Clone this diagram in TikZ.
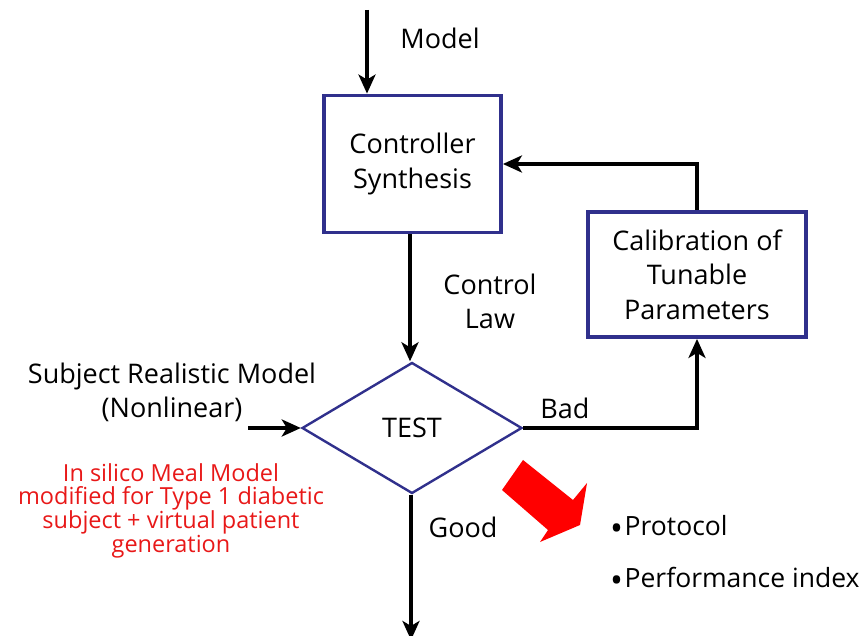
\documentclass[tikz,border=0pt]{standalone}
\usepackage{fontspec}
\setmainfont{Open Sans}
\usetikzlibrary{shapes.geometric,arrows.meta}
\definecolor{boxblue}{RGB}{48,48,140}
\definecolor{notered}{RGB}{232,24,24}
\definecolor{bigred}{RGB}{255,0,0}
\tikzset{
  stepbox/.style={draw=boxblue, line width=3.8pt, fill=white, inner sep=0pt,
    align=center, font=\fontsize{27}{34.5}\selectfont},
  decision/.style={diamond, draw=boxblue, line width=2.4pt, inner sep=0pt,
    minimum width=220pt, minimum height=131pt, aspect=1.68,
    font=\fontsize{27}{34}\selectfont},
  flow/.style={line width=4pt, draw=black,
    -{Stealth[length=19pt,width=17pt,inset=5pt]}},
  lbl/.style={inner sep=0pt, align=center, font=\fontsize{27}{34}\selectfont},
  note/.style={inner sep=0pt, align=center, text=notered,
    font=\fontsize{23.5}{22.5}\selectfont},
  bullet/.style={inner sep=0pt, anchor=west, font=\fontsize{26.5}{34}\selectfont}
}
% list marker: a slightly enlarged bullet kept on the x-height centre
\newcommand{\bigdot}{\raisebox{-0.32ex}{\scalebox{1.3}{\textbullet}}\hspace{1.5pt}}
\begin{document}
\begin{tikzpicture}[x=1pt,y=-1pt]
\useasboundingbox (0,0) rectangle (863,636);

% blocks
\node[stepbox, minimum width=177pt, minimum height=137pt] (cs) at (412.5,164)
  {Controller\\Synthesis};
\node[stepbox, minimum width=218pt, minimum height=125pt] (cal) at (697,274.5)
  {Calibration of\\Tunable\\Parameters};
\node[decision] (test) at (412,428) {TEST};

% free ends
\coordinate (min) at (367,10);
\coordinate (sin) at (248,428);
\coordinate (gout) at (411,640);

% connectors
\draw[flow] (min) -- (min |- cs.north);
\draw[flow] (cal.north) |- (cs.east);
\draw[flow] (cs.south -| 410,0) -- (test.north -| 410,0);
\draw[flow] (test.east) -| (cal.south);
\draw[flow] (sin) -- (test.west);
\draw[flow] (test.south -| gout) -- (gout);

% labels
\node[lbl] (lmodel) at (440,38) {Model};
\node[lbl] (llaw) at (490,301) {Control\\Law};
\node[lbl] (lbad) at (565,408) {Bad};
\node[lbl] (lsubj) at (172,392) {Subject Realistic Model\\(Nonlinear)};
\node[lbl] (lgood) at (463,527) {Good};
\node[note] (lmeal) at (171,511)
  {In silico Meal Model\\modified for Type 1 diabetic\\subject + virtual patient\\generation};

% outcome arrow and list
\fill[bigred] (523,460) -- (573,500) -- (587,483) -- (580,525)
  -- (540,542) -- (548,530) -- (502,490) -- cycle;
\node[bullet] (bproto) at (610,528) {\bigdot Protocol};
\node[bullet] (bperf) at (610,580) {\bigdot Performance index};
\end{tikzpicture}
\end{document}
